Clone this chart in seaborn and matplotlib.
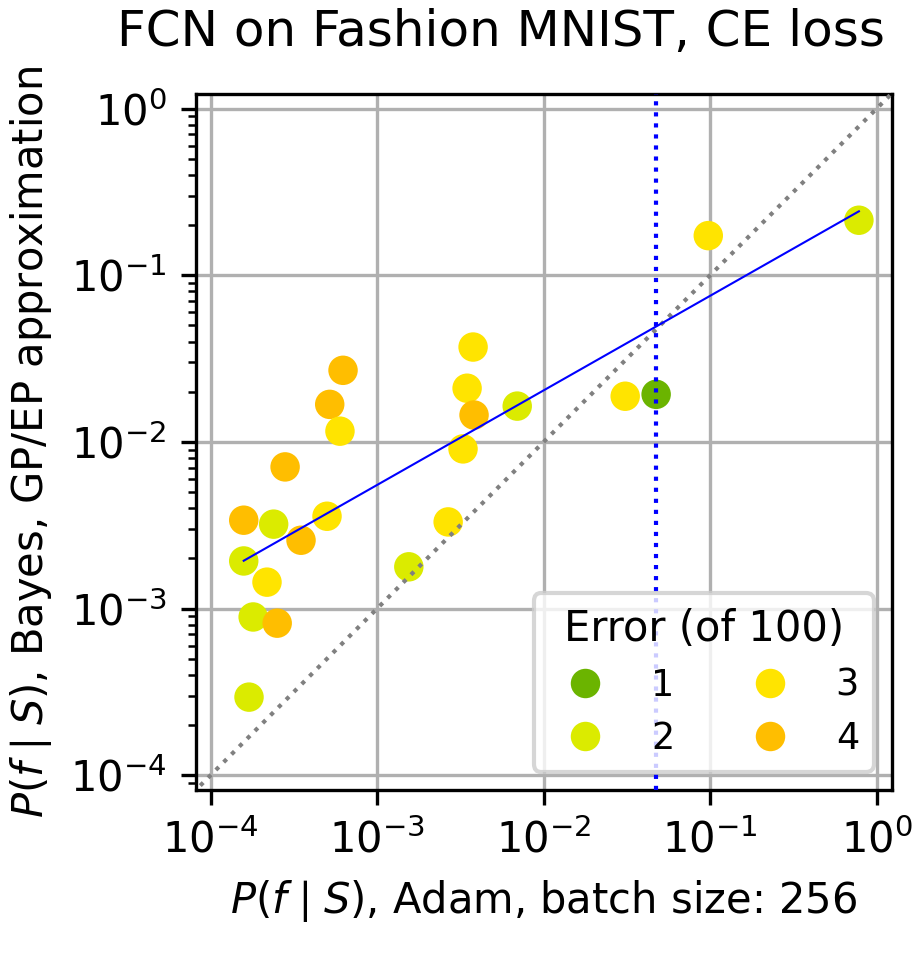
import numpy as np
import pandas as pd
import matplotlib
matplotlib.use("Agg")
import matplotlib.pyplot as plt
import seaborn as sns
from matplotlib.ticker import NullLocator

# ---- data ----
adam_prob = [6.24e-4, 5.19e-4, 5.98e-4, 2.80e-4, 1.58e-4, 2.39e-4, 5.00e-4, 3.49e-4,
             1.58e-4, 2.18e-4, 1.80e-4, 2.51e-4, 1.70e-4, 1.55e-3, 2.67e-3, 3.77e-3,
             3.47e-3, 3.82e-3, 6.94e-3, 3.28e-3, 3.09e-2, 4.74e-2, 9.75e-2, 7.83e-1]
gp_prob = [2.69e-2, 1.68e-2, 1.16e-2, 7.08e-3, 3.39e-3, 3.21e-3, 3.58e-3, 2.57e-3,
           1.93e-3, 1.44e-3, 8.9e-4, 8.17e-4, 2.94e-4, 1.78e-3, 3.31e-3, 3.71e-2,
           2.10e-2, 1.45e-2, 1.64e-2, 9.08e-3, 1.88e-2, 1.93e-2, 1.73e-1, 2.14e-1]
errors = [4, 4, 3, 4, 4, 2, 3, 4,
          2, 3, 2, 4, 2, 2, 3, 3,
          3, 4, 2, 3, 3, 1, 3, 2]
error_levels = [1, 2, 3, 4]
error_colors = ["#6bb400", "#dbeb00", "#ffe400", "#ffbe00"]

df = pd.DataFrame({"adam": adam_prob, "gp": gp_prob, "err": errors})
palette = dict(zip(error_levels, error_colors))

plt.rcParams["font.family"] = ["DejaVu Sans"]
plt.rcParams["mathtext.fontset"] = "dejavusans"

W, H = 916, 953
fig = plt.figure(figsize=(W / 300, H / 300), dpi=300)
ax = fig.add_axes([196 / W, 1 - 790 / H, (892 - 196) / W, (790 - 94) / H])

sns.scatterplot(data=df, x="adam", y="gp", hue="err", palette=palette,
                hue_order=error_levels, s=50, linewidth=0, ax=ax, zorder=3,
                legend="full")

ax.set_xscale("log")
ax.set_yscale("log")
xlo, xhi = 10 ** -4.088, 10 ** 0.0925
ylo, yhi = 10 ** -4.089, 10 ** 0.088

# diagonal y = x
ax.plot([1e-5, 10], [1e-5, 10], ls=":", color="gray", lw=1.0, zorder=4)

# least-squares fit in log-log space
lx, ly = np.log10(df["adam"]), np.log10(df["gp"])
slope, icpt = np.polyfit(lx, ly, 1)
fx = np.array([lx.min(), lx.max()])
ax.plot(10 ** fx, 10 ** (slope * fx + icpt), color="blue", lw=0.5, zorder=4)

# vertical marker at the lowest-error function
vx = df.loc[df["err"].idxmin(), "adam"]
ax.axvline(vx, color="blue", ls=":", lw=1.0, zorder=4)

ax.set_xlim(xlo, xhi)
ax.set_ylim(ylo, yhi)
ax.xaxis.set_minor_locator(NullLocator())
ax.grid(True, which="major", color="#b0b0b0", lw=0.8, zorder=0)
ax.set_axisbelow(True)
ax.tick_params(labelsize=10)

ax.set_xlabel(r"$P(f\mid S)$, Adam, batch size: 256", fontsize=10)
ax.set_ylabel(r"$P(f\mid S)$, Bayes, GP/EP approximation", fontsize=10)
fig.text(501 / W, 1 - 46 / H, "FCN on Fashion MNIST, CE loss", fontsize=12,
         ha="center", va="baseline")

handles, labels = ax.get_legend_handles_labels()
ax.legend(handles, labels, title="Error (of 100)", ncol=2, loc="lower right",
          fontsize=8.8, title_fontsize=10, labelspacing=0.45, columnspacing=1.6)

fig.savefig("out.png", dpi=300)
